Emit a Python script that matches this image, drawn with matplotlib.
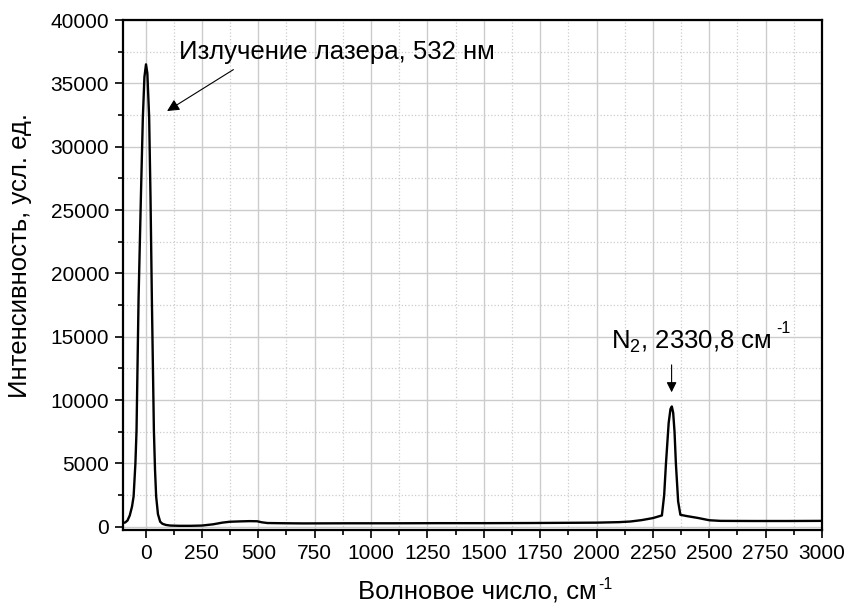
import matplotlib
matplotlib.use("Agg")
import matplotlib.pyplot as plt
from matplotlib.ticker import MultipleLocator

plt.rcParams['font.family'] = ['Liberation Sans', 'DejaVu Sans']
plt.rcParams['mathtext.fontset'] = 'custom'
plt.rcParams['mathtext.rm'] = 'Liberation Sans'
plt.rcParams['mathtext.it'] = 'Liberation Sans'

# Spectrum (wavenumber, intensity)
wavenumber = [-100, -90, -80, -70, -60, -53, -45, -40, -31, -20, -12, -5, 2, 8, 16, 22, 28, 37, 42, 47,
              55, 65, 75, 90, 110, 150, 200, 250, 300, 340, 373, 420, 462, 495, 515, 540, 600, 700, 900,
              1100, 1300, 1500, 1700, 1900, 2000, 2100, 2150, 2200, 2250, 2290, 2300, 2308, 2320,
              2328, 2334, 2340, 2346, 2352, 2362, 2372, 2400, 2450, 2500, 2550, 2700, 2850, 3000]
intensity = [300, 350, 500, 900, 1600, 2400, 5000, 7600, 18000, 26500, 32300, 35500, 36500, 35800,
             32300, 26000, 18000, 7600, 4500, 2400, 1000, 400, 240, 150, 100, 80, 80, 100, 200, 330,
             400, 430, 450, 440, 360, 300, 285, 270, 280, 280, 290, 290, 300, 320, 330, 370, 420, 530,
             690, 900, 2500, 5000, 8200, 9300, 9500, 9000, 7500, 5000, 2000, 950, 850, 700, 520,
             470, 460, 460, 470]

laser_label = "Излучение лазера, 532 нм"
n2_label = "N$_2$, 2330,8 см"
xlabel = "Волновое число, см"
ylabel = "Интенсивность, усл. ед."
sup_text = "-1"

W, H = 846, 608
fig = plt.figure(figsize=(W / 100, H / 100), dpi=100)
ax = fig.add_axes([123 / W, 1 - 530 / H, (822 - 123) / W, (530 - 20) / H])

ax.plot(wavenumber, intensity, color='black', lw=1.7, zorder=3)

ax.set_xlim(-100, 3000)
ax.set_ylim(-250, 40000)
ax.xaxis.set_major_locator(MultipleLocator(250))
ax.xaxis.set_minor_locator(MultipleLocator(125))
ax.yaxis.set_major_locator(MultipleLocator(5000))
ax.yaxis.set_minor_locator(MultipleLocator(2500))

ax.grid(which='major', color='#cccccc', lw=1.0, ls='-', zorder=0)
ax.grid(which='minor', color='#cccccc', lw=0.9, ls=':', zorder=0)
ax.set_axisbelow(True)

ax.tick_params(which='major', direction='out', length=6, width=1.2, labelsize=15, pad=4)
ax.tick_params(which='minor', direction='out', length=3.5, width=1.2)
ax.tick_params(top=False, right=False, which='both')
for s in ax.spines.values():
    s.set_linewidth(1.6)

lab_fs = 18.5
xl = fig.text(477 / W, 1 - 592 / H, xlabel, fontsize=lab_fs, ha='center', va='center')
fig.text(20 / W, 1 - 256 / H, ylabel, fontsize=lab_fs, ha='center', va='center', rotation=90)

ax.annotate("", xy=(85, 32700), xytext=(400, 36200),
            arrowprops=dict(arrowstyle='-|>', color='black', lw=0.8, mutation_scale=18))
ax.text(150, 37500, laser_label, fontsize=lab_fs, va='center', ha='left')

ax.annotate("", xy=(2333, 10400), xytext=(2333, 13000),
            arrowprops=dict(arrowstyle='-|>', color='black', lw=0.8, mutation_scale=15))
n2 = ax.text(2065, 14600, n2_label, fontsize=lab_fs, va='center', ha='left')

# superscripts "-1" placed after the measured text
fig.canvas.draw()
r = fig.canvas.get_renderer()
bb = xl.get_window_extent(r)
fig.text((bb.x1 + 2) / W, (bb.y1 + 3) / H, sup_text, fontsize=11.5, ha='left', va='top')
bb2 = n2.get_window_extent(r)
fig.text((bb2.x1 + 5) / W, (bb2.y1 + 8) / H, sup_text, fontsize=11.5, ha='left', va='top')

fig.savefig("out.png", dpi=100)
